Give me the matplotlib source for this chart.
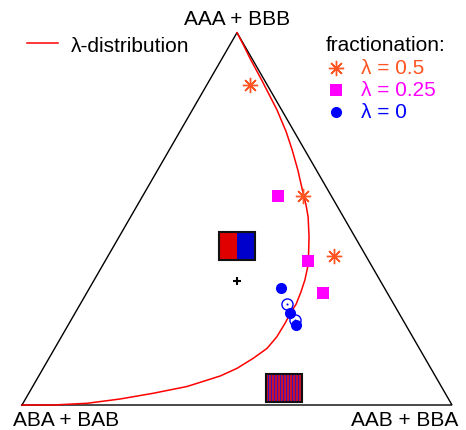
import numpy as np
import matplotlib.pyplot as plt
from matplotlib.patches import Rectangle

plt.rcParams['font.family'] = ['Liberation Sans', 'DejaVu Sans']

# ternary fractions: top = AAA + BBB, right = AAB + BBA, left (ABA + BAB) = rest
curve_top = [0.0, 0.0, 0.0046, 0.0161, 0.0314, 0.0497, 0.0779, 0.0986, 0.1254, 0.1523,
             0.1834, 0.2194, 0.2497, 0.2712, 0.3034, 0.3357, 0.3679, 0.4028, 0.4511, 0.5048,
             0.5371, 0.5693, 0.6310, 0.6847, 0.7331, 0.7922, 0.8727, 0.9265, 0.9641, 1.0]
curve_right = [0.0, 0.072, 0.149, 0.220, 0.289, 0.359, 0.422, 0.451, 0.475, 0.494,
               0.501, 0.502, 0.501, 0.502, 0.497, 0.490, 0.480, 0.465, 0.442, 0.413,
               0.392, 0.369, 0.326, 0.286, 0.248, 0.197, 0.121, 0.069, 0.034, 0.0]

frac05_top = [0.860, 0.561, 0.400]
frac05_right = [0.100, 0.373, 0.526]

frac025_top = [0.561, 0.387, 0.301]
frac025_right = [0.315, 0.472, 0.550]

frac0_top = [0.314, 0.247, 0.215]
frac0_right = [0.445, 0.500, 0.530]

frac0_open_top = [0.271, 0.228]
frac0_open_right = [0.481, 0.521]

centroid = (1 / 3, 1 / 3)
split_box = (0.427, 0.2865)
striped_box = (0.046, 0.5865)

corner_labels = ['AAA + BBB', 'ABA + BAB', 'AAB + BBA']
legend_labels = ['λ = 0.5', 'λ = 0.25', 'λ = 0']

ORANGE = '#FF5522'
MAGENTA = '#FF00FF'
BLUE = '#0000FF'
H = np.sqrt(3) / 2


def to_xy(top, right):
	top = np.asarray(top, dtype=float)
	right = np.asarray(right, dtype=float)
	return right + top / 2, top * H


def P(px, py):
	# picture pixel -> data coords (triangle side = 430 px)
	return (px - 22) / 430, (405 - py) / 430


def draw_box(ax, cx, cy, fills):
	w, h = 36 / 430, 28 / 430
	d = 1.2 / 430
	ax.add_patch(Rectangle((cx - w / 2 + d, cy - h / 2 - d), w, h, fc='#999999', ec='none'))
	n = len(fills)
	for i, c in enumerate(fills):
		ax.add_patch(Rectangle((cx - w / 2 + i * w / n, cy - h / 2), w / n, h, fc=c, ec='none', lw=0))
	ax.add_patch(Rectangle((cx - w / 2, cy - h / 2), w, h, fc='none', ec='#111111', lw=1.5))


fig = plt.figure(figsize=(4.66, 4.30), dpi=100)
ax = fig.add_axes([0, 0, 1, 1])
ax.set_xlim(-22 / 430, 444 / 430)
ax.set_ylim(-25 / 430, 405 / 430)
ax.axis('off')

# triangle
ax.plot([0, 1, 0.5, 0], [0, 0, H, 0], color='black', lw=1.0, solid_joinstyle='miter')

# lambda-distribution curve
x, y = to_xy(curve_top, curve_right)
ax.plot(x, y, color='red', lw=1.1, solid_joinstyle='round')

# boxes
bx, by = to_xy(*split_box)
draw_box(ax, float(bx), float(by), ['#E00000', '#0000CC'])
bx, by = to_xy(*striped_box)
draw_box(ax, float(bx), float(by), ['#C81030', '#3A14B8'] * 12)

# centroid
cx, cy = to_xy(*centroid)
ax.plot(cx, cy, marker='+', color='black', ms=6, mew=1.5)

# points
x, y = to_xy(frac05_top, frac05_right)
ax.plot(x, y, ls='none', marker=(8, 2, 0), color=ORANGE, ms=11, mew=1.0)
x, y = to_xy(frac025_top, frac025_right)
ax.plot(x, y, ls='none', marker='s', color=MAGENTA, ms=8.5, mew=0)
x, y = to_xy(frac0_open_top, frac0_open_right)
ax.plot(x, y, ls='none', marker='o', mfc='none', mec=BLUE, ms=8, mew=1.0)
ax.plot(x, y, ls='none', marker='o', color=BLUE, ms=1.5, mew=0)
x, y = to_xy(frac0_top, frac0_right)
ax.plot(x, y, ls='none', marker='o', color=BLUE, ms=8, mew=0)

# corner labels
ax.text(*P(237, 25), corner_labels[0], ha='center', va='baseline', fontsize=15)
ax.text(*P(66, 426.5), corner_labels[1], ha='center', va='baseline', fontsize=15)
ax.text(*P(405, 426.5), corner_labels[2], ha='center', va='baseline', fontsize=15)

# left legend
lx0, ly = P(27, 43)
lx1, _ = P(58, 43)
ax.plot([lx0, lx1], [ly, ly], color='red', lw=1.1)
ax.text(*P(71, 51.5), 'λ-distribution', ha='left', va='baseline', fontsize=15)

# right legend
ax.text(*P(326, 51), 'fractionation:', ha='left', va='baseline', fontsize=15)
ax.plot(*P(336, 68), marker=(8, 2, 0), color=ORANGE, ms=11, mew=1.0)
ax.text(*P(361, 73.5), legend_labels[0], ha='left', va='baseline', fontsize=15, color=ORANGE)
ax.plot(*P(336, 90), marker='s', color=MAGENTA, ms=8.5, mew=0)
ax.text(*P(361, 95.5), legend_labels[1], ha='left', va='baseline', fontsize=15, color=MAGENTA)
ax.plot(*P(336, 112), marker='o', color=BLUE, ms=8, mew=0)
ax.text(*P(361, 117.5), legend_labels[2], ha='left', va='baseline', fontsize=15, color=BLUE)

fig.savefig('out.png', dpi=100)
